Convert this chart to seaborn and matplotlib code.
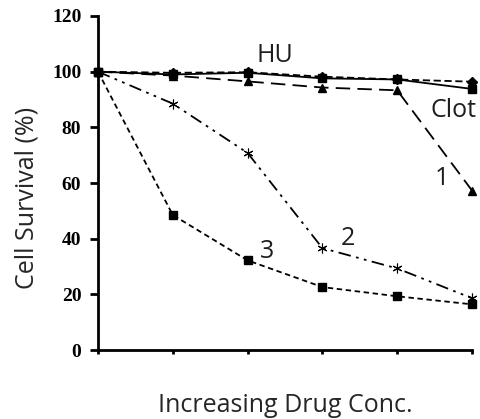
import matplotlib
matplotlib.use("Agg")
import matplotlib.pyplot as plt
import seaborn as sns

sns.set_style("white")
plt.rcParams["font.family"] = ["Open Sans", "DejaVu Sans"]
plt.rcParams["text.color"] = "#1e1e1e"

# Drug concentration steps (unlabelled on the axis)
doses = [0, 1, 2, 3, 4, 5]

# Cell survival (%) per treatment
hu = [100, 99.0, 99.6, 97.6, 97.2, 93.8]
clot = [100, 99.6, 99.8, 98.2, 97.2, 96.4]
cmpd1 = [100, 98.6, 96.5, 94.3, 93.3, 57.3]
cmpd2 = [100, 88.5, 70.8, 36.6, 29.3, 18.6]
cmpd3 = [100, 48.5, 32.2, 22.6, 19.3, 16.4]

y_ticks = [0, 20, 40, 60, 80, 100, 120]

fig = plt.figure(figsize=(4.8, 4.19), dpi=100)
ax = fig.add_axes([98 / 480, 69 / 419, 374 / 480, 334 / 419])

series = [
    (clot, "D", (0, (4, 2)), 5, 1),
    (cmpd1, "^", (0, (8, 4)), 6, 1),
    (cmpd2, (6, 2, 0), (0, (7, 3, 1.5, 3, 1.5, 3)), 7, 0.8),
    (cmpd3, "s", (0, (3, 2)), 5.5, 1),
    (hu, "s", "-", 5.5, 1),
]
for vals, mk, ls, ms, mew in series:
    sns.lineplot(x=doses, y=vals, ax=ax, color="black", marker=mk,
                 markersize=ms, markeredgecolor="black", markeredgewidth=mew,
                 linestyle=ls, linewidth=1.3, clip_on=False)

ax.set_xlim(0, 5)
ax.set_ylim(0, 120)
ax.set_xticks(doses)
ax.set_xticklabels([])
ax.set_yticks(y_ticks)
ax.set_yticklabels([str(v) for v in y_ticks], family="Liberation Serif",
                   fontweight="bold", fontsize=14, color="black")

for side in ("top", "right"):
    ax.spines[side].set_visible(False)
for side in ("left", "bottom"):
    ax.spines[side].set_linewidth(2)
    ax.spines[side].set_color("black")
ax.tick_params(axis="y", direction="out", length=6, width=2, pad=6,
               left=True, colors="black")
ax.tick_params(axis="x", direction="out", length=3, width=2, bottom=True,
               colors="black")

ax.set_ylabel("Cell Survival (%)", fontsize=18)
ax.yaxis.label.set_va("center")
ax.yaxis.set_label_coords(-0.19, 0.455)
ax.set_xlabel("Increasing Drug Conc.", fontsize=18)
ax.xaxis.label.set_va("baseline")
ax.xaxis.set_label_coords(0.5, -0.186)

# Curve labels
labels = [
    ("HU", 2.37, 103.5),
    ("Clot", 4.75, 83.7),
    ("1", 4.6, 59.3),
    ("2", 3.34, 37.7),
    ("3", 2.26, 33.0),
]
for txt, lx, ly in labels:
    ax.text(lx, ly, txt, fontsize=18, ha="center", va="baseline")

fig.savefig("out.png", dpi=100)
